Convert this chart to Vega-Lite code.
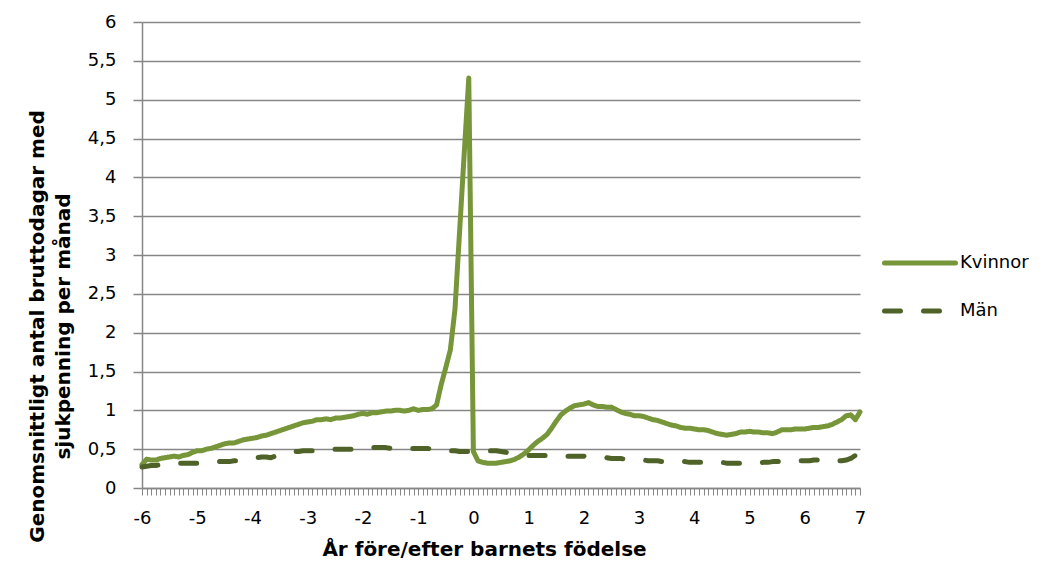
{
  "$schema": "https://vega.github.io/schema/vega-lite/v6.json",
  "autosize": "none",
  "width": 718,
  "height": 466,
  "padding": {"left": 142, "top": 22, "right": 182, "bottom": 75},
  "background": "white",
  "config": {
    "view": {"stroke": null},
    "font": "DejaVu Sans",
    "axis": {"labelFont": "DejaVu Sans", "titleFont": "DejaVu Sans", "labelColor": "#000000", "titleColor": "#000000"}
  },
  "data": {
    "values": [
      {"m":-72,"Kvinnor":0.30,"Män":0.27},{"m":-71,"Kvinnor":0.37,"Män":0.28},{"m":-70,"Kvinnor":0.36,"Män":0.29},{"m":-69,"Kvinnor":0.36,"Män":0.29},
      {"m":-68,"Kvinnor":0.38,"Män":0.30},{"m":-67,"Kvinnor":0.39,"Män":0.31},{"m":-66,"Kvinnor":0.40,"Män":0.31},{"m":-65,"Kvinnor":0.41,"Män":0.32},
      {"m":-64,"Kvinnor":0.40,"Män":0.32},{"m":-63,"Kvinnor":0.42,"Män":0.32},{"m":-62,"Kvinnor":0.43,"Män":0.32},{"m":-61,"Kvinnor":0.46,"Män":0.32},
      {"m":-60,"Kvinnor":0.48,"Män":0.32},{"m":-59,"Kvinnor":0.48,"Män":0.33},{"m":-58,"Kvinnor":0.50,"Män":0.33},{"m":-57,"Kvinnor":0.51,"Män":0.33},
      {"m":-56,"Kvinnor":0.53,"Män":0.34},{"m":-55,"Kvinnor":0.55,"Män":0.34},{"m":-54,"Kvinnor":0.57,"Män":0.34},{"m":-53,"Kvinnor":0.58,"Män":0.34},
      {"m":-52,"Kvinnor":0.58,"Män":0.35},{"m":-51,"Kvinnor":0.60,"Män":0.35},{"m":-50,"Kvinnor":0.62,"Män":0.36},{"m":-49,"Kvinnor":0.63,"Män":0.37},
      {"m":-48,"Kvinnor":0.64,"Män":0.38},{"m":-47,"Kvinnor":0.65,"Män":0.39},{"m":-46,"Kvinnor":0.67,"Män":0.40},{"m":-45,"Kvinnor":0.68,"Män":0.40},
      {"m":-44,"Kvinnor":0.70,"Män":0.39},{"m":-43,"Kvinnor":0.72,"Män":0.41},{"m":-42,"Kvinnor":0.74,"Män":0.43},{"m":-41,"Kvinnor":0.76,"Män":0.45},
      {"m":-40,"Kvinnor":0.78,"Män":0.46},{"m":-39,"Kvinnor":0.80,"Män":0.47},{"m":-38,"Kvinnor":0.82,"Män":0.47},{"m":-37,"Kvinnor":0.84,"Män":0.48},
      {"m":-36,"Kvinnor":0.85,"Män":0.48},{"m":-35,"Kvinnor":0.86,"Män":0.48},{"m":-34,"Kvinnor":0.88,"Män":0.49},{"m":-33,"Kvinnor":0.88,"Män":0.49},
      {"m":-32,"Kvinnor":0.89,"Män":0.49},{"m":-31,"Kvinnor":0.88,"Män":0.49},{"m":-30,"Kvinnor":0.90,"Män":0.50},{"m":-29,"Kvinnor":0.90,"Män":0.50},
      {"m":-28,"Kvinnor":0.91,"Män":0.50},{"m":-27,"Kvinnor":0.92,"Män":0.50},{"m":-26,"Kvinnor":0.93,"Män":0.50},{"m":-25,"Kvinnor":0.95,"Män":0.50},
      {"m":-24,"Kvinnor":0.96,"Män":0.50},{"m":-23,"Kvinnor":0.95,"Män":0.51},{"m":-22,"Kvinnor":0.97,"Män":0.52},{"m":-21,"Kvinnor":0.97,"Män":0.52},
      {"m":-20,"Kvinnor":0.98,"Män":0.52},{"m":-19,"Kvinnor":0.99,"Män":0.52},{"m":-18,"Kvinnor":0.99,"Män":0.51},{"m":-17,"Kvinnor":1.00,"Män":0.51},
      {"m":-16,"Kvinnor":1.00,"Män":0.51},{"m":-15,"Kvinnor":0.99,"Män":0.51},{"m":-14,"Kvinnor":1.00,"Män":0.51},{"m":-13,"Kvinnor":1.02,"Män":0.51},
      {"m":-12,"Kvinnor":1.00,"Män":0.51},{"m":-11,"Kvinnor":1.01,"Män":0.51},{"m":-10,"Kvinnor":1.01,"Män":0.51},{"m":-9,"Kvinnor":1.02,"Män":0.50},
      {"m":-8,"Kvinnor":1.07,"Män":0.50},{"m":-7,"Kvinnor":1.33,"Män":0.49},{"m":-6,"Kvinnor":1.55,"Män":0.49},{"m":-5,"Kvinnor":1.78,"Män":0.48},
      {"m":-4,"Kvinnor":2.30,"Män":0.48},{"m":-3,"Kvinnor":3.30,"Män":0.47},{"m":-2,"Kvinnor":4.30,"Män":0.47},{"m":-1,"Kvinnor":5.28,"Män":0.47},
      {"m":0,"Kvinnor":0.47,"Män":0.47},{"m":1,"Kvinnor":0.35,"Män":0.48},{"m":2,"Kvinnor":0.33,"Män":0.48},{"m":3,"Kvinnor":0.32,"Män":0.48},
      {"m":4,"Kvinnor":0.32,"Män":0.48},{"m":5,"Kvinnor":0.32,"Män":0.48},{"m":6,"Kvinnor":0.33,"Män":0.47},{"m":7,"Kvinnor":0.34,"Män":0.46},
      {"m":8,"Kvinnor":0.35,"Män":0.45},{"m":9,"Kvinnor":0.37,"Män":0.44},{"m":10,"Kvinnor":0.40,"Män":0.43},{"m":11,"Kvinnor":0.44,"Män":0.43},
      {"m":12,"Kvinnor":0.49,"Män":0.42},{"m":13,"Kvinnor":0.55,"Män":0.42},{"m":14,"Kvinnor":0.60,"Män":0.42},{"m":15,"Kvinnor":0.64,"Män":0.42},
      {"m":16,"Kvinnor":0.69,"Män":0.42},{"m":17,"Kvinnor":0.77,"Män":0.42},{"m":18,"Kvinnor":0.86,"Män":0.42},{"m":19,"Kvinnor":0.94,"Män":0.42},
      {"m":20,"Kvinnor":0.99,"Män":0.41},{"m":21,"Kvinnor":1.03,"Män":0.41},{"m":22,"Kvinnor":1.06,"Män":0.41},{"m":23,"Kvinnor":1.07,"Män":0.41},
      {"m":24,"Kvinnor":1.08,"Män":0.41},{"m":25,"Kvinnor":1.10,"Män":0.40},{"m":26,"Kvinnor":1.07,"Män":0.40},{"m":27,"Kvinnor":1.05,"Män":0.40},
      {"m":28,"Kvinnor":1.05,"Män":0.39},{"m":29,"Kvinnor":1.04,"Män":0.39},{"m":30,"Kvinnor":1.04,"Män":0.38},{"m":31,"Kvinnor":1.01,"Män":0.38},
      {"m":32,"Kvinnor":0.98,"Män":0.38},{"m":33,"Kvinnor":0.96,"Män":0.37},{"m":34,"Kvinnor":0.95,"Män":0.37},{"m":35,"Kvinnor":0.93,"Män":0.37},
      {"m":36,"Kvinnor":0.93,"Män":0.36},{"m":37,"Kvinnor":0.92,"Män":0.36},{"m":38,"Kvinnor":0.90,"Män":0.35},{"m":39,"Kvinnor":0.88,"Män":0.35},
      {"m":40,"Kvinnor":0.87,"Män":0.35},{"m":41,"Kvinnor":0.85,"Män":0.34},{"m":42,"Kvinnor":0.83,"Män":0.34},{"m":43,"Kvinnor":0.81,"Män":0.34},
      {"m":44,"Kvinnor":0.80,"Män":0.34},{"m":45,"Kvinnor":0.78,"Män":0.34},{"m":46,"Kvinnor":0.77,"Män":0.34},{"m":47,"Kvinnor":0.77,"Män":0.33},
      {"m":48,"Kvinnor":0.76,"Män":0.33},{"m":49,"Kvinnor":0.75,"Män":0.33},{"m":50,"Kvinnor":0.75,"Män":0.33},{"m":51,"Kvinnor":0.74,"Män":0.33},
      {"m":52,"Kvinnor":0.72,"Män":0.33},{"m":53,"Kvinnor":0.70,"Män":0.33},{"m":54,"Kvinnor":0.69,"Män":0.33},{"m":55,"Kvinnor":0.68,"Män":0.32},
      {"m":56,"Kvinnor":0.69,"Män":0.32},{"m":57,"Kvinnor":0.70,"Män":0.32},{"m":58,"Kvinnor":0.72,"Män":0.32},{"m":59,"Kvinnor":0.72,"Män":0.32},
      {"m":60,"Kvinnor":0.73,"Män":0.32},{"m":61,"Kvinnor":0.72,"Män":0.32},{"m":62,"Kvinnor":0.72,"Män":0.32},{"m":63,"Kvinnor":0.71,"Män":0.33},
      {"m":64,"Kvinnor":0.71,"Män":0.33},{"m":65,"Kvinnor":0.70,"Män":0.34},{"m":66,"Kvinnor":0.72,"Män":0.34},{"m":67,"Kvinnor":0.75,"Män":0.34},
      {"m":68,"Kvinnor":0.75,"Män":0.35},{"m":69,"Kvinnor":0.75,"Män":0.35},{"m":70,"Kvinnor":0.76,"Män":0.35},{"m":71,"Kvinnor":0.76,"Män":0.35},
      {"m":72,"Kvinnor":0.76,"Män":0.35},{"m":73,"Kvinnor":0.77,"Män":0.35},{"m":74,"Kvinnor":0.78,"Män":0.36},{"m":75,"Kvinnor":0.78,"Män":0.36},
      {"m":76,"Kvinnor":0.79,"Män":0.37},{"m":77,"Kvinnor":0.80,"Män":0.37},{"m":78,"Kvinnor":0.82,"Män":0.36},{"m":79,"Kvinnor":0.85,"Män":0.35},
      {"m":80,"Kvinnor":0.88,"Män":0.35},{"m":81,"Kvinnor":0.93,"Män":0.36},{"m":82,"Kvinnor":0.94,"Män":0.38},{"m":83,"Kvinnor":0.88,"Män":0.42},
      {"m":84,"Kvinnor":0.98,"Män":0.45}
    ]
  },
  "transform": [{"fold": ["Kvinnor", "Män"], "as": ["serie", "varde"]}],
  "mark": {"type": "line", "strokeWidth": 5, "strokeCap": "round", "strokeJoin": "round"},
  "encoding": {
    "x": {
      "field": "m", "type": "quantitative",
      "scale": {"domain": [-72, 84], "nice": false, "zero": false},
      "axis": {
        "title": "År före/efter barnets födelse",
        "titleFontSize": 20, "titleFontWeight": "bold",
        "titleX": 342, "titleY": 67, "titleBaseline": "alphabetic", "titleAnchor": null,
        "grid": false,
        "domainColor": "#868686", "domainWidth": 1.5,
        "tickColor": "#868686", "tickWidth": 1, "tickSize": 7,
        "labelFontSize": 18, "labelPadding": 14, "labelOverlap": false, "labelFlush": false,
        "labelExpr": "datum.value % 12 == 0 ? '' + (datum.value / 12) : ''",
        "values": [-72,-71,-70,-69,-68,-67,-66,-65,-64,-63,-62,-61,-60,-59,-58,-57,-56,-55,-54,-53,-52,-51,-50,-49,-48,-47,-46,-45,-44,-43,-42,-41,-40,-39,-38,-37,-36,-35,-34,-33,-32,-31,-30,-29,-28,-27,-26,-25,-24,-23,-22,-21,-20,-19,-18,-17,-16,-15,-14,-13,-12,-11,-10,-9,-8,-7,-6,-5,-4,-3,-2,-1,0,1,2,3,4,5,6,7,8,9,10,11,12,13,14,15,16,17,18,19,20,21,22,23,24,25,26,27,28,29,30,31,32,33,34,35,36,37,38,39,40,41,42,43,44,45,46,47,48,49,50,51,52,53,54,55,56,57,58,59,60,61,62,63,64,65,66,67,68,69,70,71,72,73,74,75,76,77,78,79,80,81,82,83,84]
      }
    },
    "y": {
      "field": "varde", "type": "quantitative",
      "scale": {"domain": [0, 6], "nice": false},
      "axis": {
        "title": ["Genomsnittligt antal bruttodagar med", "sjukpenning per månad"],
        "titleFontSize": 20, "titleFontWeight": "bold", "titleLineHeight": 26,
        "titleX": -95, "titleY": 304, "titleAnchor": null,
        "values": [0, 0.5, 1, 1.5, 2, 2.5, 3, 3.5, 4, 4.5, 5, 5.5, 6],
        "labelExpr": "replace('' + datum.value, '.', ',')",
        "labelFontSize": 18, "labelPadding": 17,
        "grid": true, "gridColor": "#868686", "gridWidth": 1.5,
        "domainColor": "#868686", "domainWidth": 1.5,
        "tickColor": "#868686", "tickWidth": 1.5, "tickSize": 9
      }
    },
    "color": {
      "field": "serie", "type": "nominal",
      "scale": {"domain": ["Kvinnor", "Män"], "range": ["#77963a", "#4f6228"]},
      "legend": {
        "title": null, "orient": "none", "legendX": 740, "legendY": 203,
        "symbolType": "stroke", "symbolSize": 5041, "symbolStrokeWidth": 5,
        "labelFontSize": 18, "labelFont": "DejaVu Sans", "labelColor": "#000000", "labelOffset": 2,
        "rowPadding": -22,
        "encode": {"symbols": {"update": {"strokeCap": {"value": "round"}}}}
      }
    },
    "strokeDash": {
      "field": "serie", "type": "nominal",
      "scale": {"domain": ["Kvinnor", "Män"], "range": [[1, 0], [16, 23]]},
      "legend": {
        "title": null, "orient": "none", "legendX": 740, "legendY": 203,
        "symbolType": "stroke", "symbolSize": 5041, "symbolStrokeWidth": 5,
        "labelFontSize": 18, "labelFont": "DejaVu Sans", "labelColor": "#000000", "labelOffset": 2,
        "rowPadding": -22,
        "encode": {"symbols": {"update": {"strokeCap": {"value": "round"}}}}
      }
    }
  }
}
